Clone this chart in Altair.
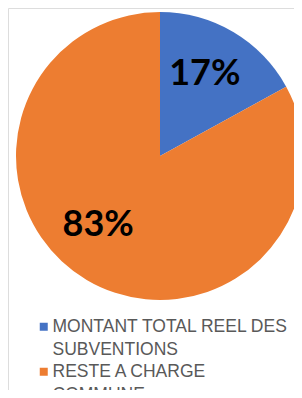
import altair as alt
import pandas as pd

categories = ["MONTANT TOTAL REEL DES SUBVENTIONS", "RESTE A CHARGE COMMUNE"]
values = [17, 83]
labels = ["17%", "83%"]
order = [0, 1]
colors = ["#4472C4", "#ED7D31"]

df = pd.DataFrame({"cat": categories, "val": values, "lab": labels, "ord": order})

label_expr = ("datum.label == 'MONTANT TOTAL REEL DES SUBVENTIONS' ? "
              "['MONTANT TOTAL REEL DES', 'SUBVENTIONS'] : ['RESTE A CHARGE', 'COMMUNE']")

theta_scale = alt.Scale(domain=[0, 100], range=[0, 6.283185307179586])

base = alt.Chart(df).transform_stack(
    stack="val", groupby=[], as_=["v0", "v1"], sort=[alt.SortField("ord", order="ascending")]
).transform_calculate(mid="(datum.v0 + datum.v1) / 2")

pie = base.mark_arc(radius=144, strokeWidth=0).encode(
    theta=alt.Theta("v0:Q", scale=theta_scale),
    theta2="v1:Q",
    x=alt.value(152),
    y=alt.value(148),
    color=alt.Color(
        "cat:N",
        scale=alt.Scale(domain=categories, range=colors),
        legend=alt.Legend(
            title=None,
            orient="none",
            legendX=27,
            legendY=310,
            direction="vertical",
            symbolType="square",
            symbolSize=64,
            symbolStrokeWidth=0,
            labelFont="Liberation Sans",
            labelFontSize=17.5,
            labelColor="#595959",
            labelExpr=label_expr,
            labelLimit=300,
            labelOffset=0,
            rowPadding=3,
        ),
    ),
)

txt_style = dict(radius=94, font="Lato", fontWeight="bold", fontSize=36, color="black")

txt17 = base.transform_filter(alt.datum.ord == 0).mark_text(dx=-3, dy=-1, **txt_style).encode(
    theta=alt.Theta("mid:Q", scale=theta_scale),
    x=alt.value(152), y=alt.value(148), text="lab:N"
)

txt83 = base.transform_filter(alt.datum.ord == 1).mark_text(dx=-14, dy=-12, **txt_style).encode(
    theta=alt.Theta("mid:Q", scale=theta_scale),
    x=alt.value(152), y=alt.value(148), text="lab:N"
)

chart = alt.layer(pie, txt17, txt83).properties(
    width=286, height=382, padding=0, autosize="none"
).configure_view(stroke=None).configure(style={"guide-label": {"lineHeight": 23}})

chart.save("out.html", embed_options={"renderer": "svg", "actions": False})
